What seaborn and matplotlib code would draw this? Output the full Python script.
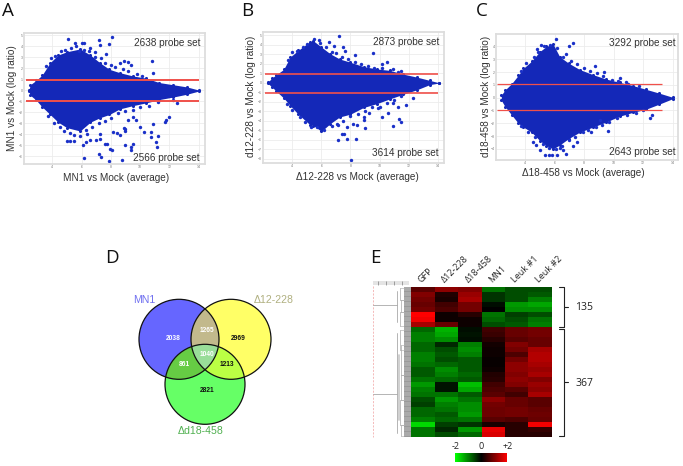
import numpy as np
import pandas as pd
import seaborn as sns
import matplotlib
matplotlib.use("Agg")
import matplotlib.pyplot as plt
from matplotlib.colors import LinearSegmentedColormap

sns.set_theme(style="white")
plt.rcParams['font.family'] = ['Liberation Sans', 'DejaVu Sans']

W, H = 683, 466

# ---------- MA plots ----------
a_x = [2.4,2.5,2.9,3.3,3.85,4.4,5.0,5.9,6.6,7.25,7.9,8.6,9.5,10.4,11.3,12.25,13.2,14.05]
a_up = [0,.5,.9,1.36,2.5,3.2,3.5,3.75,3.2,2.5,1.9,1.6,1.3,1.1,.7,.5,.3,0]
a_lo = [-.1,-.45,-.9,-1.5,-2.2,-2.9,-3.4,-3.7,-2.9,-2.5,-2.2,-1.7,-1.4,-1.15,-.85,-.62,-.36,-.06]
a_ox = [5.05,8.1,7.2,5.55,6,6.15,6.6,7.25,7.9,10.8,8.9,9.2,9.35,10.9,8.6,7.7,5.8,6.9,
        5,5.2,5.5,6.1,6.3,6.6,7,7.25,6.35,6.2,7.2,7.3,7.9,8.75,8.05,7.95,8.95,9.5,9.4,9.35,7.75,7.6,8.6,8.9,9,8.95,
        10.25,10.75,10.75,11.2,11.1,11.15,10.85,11.8,12,11.7,10,9.7,8.4,8.15,7.25,9.2,9.5,12.25,12.55,
        3.6,3.9,4.2,4.6,4.9,5.3,5.6,6.2,6.5,6.9,7.3,7.6,8,8.3,8.8,9.2,9.8,10.1,
        3.7,4.1,4.5,4.8,5.2,5.5,5.9,6.3,6.7,7.2,7.6,8,8.5,9,9.5,10,10.6,11.2]
a_oy = [4.7,4.8,4.6,4.25,4.25,4.3,3.8,4.1,4.2,2.7,2.7,2.6,2.3,1.6,2.5,3.3,3.6,3.5,
        -4.6,-4.6,-4.6,-5,-4.7,-4.55,-4.55,-3.95,-3.95,-6.2,-5.8,-6.1,-6.4,-6.3,-5.45,-5.35,-5,-4.9,-5.15,-5.45,-4.85,-4.85,-4.1,-3.4,-3.5,-3.7,
        -3.8,-3.8,-4.25,-4.2,-4.7,-5.15,-3.05,-2.7,-2.4,-2.9,-3.3,-2.7,-3.9,-3.8,-4.4,-2.7,-2.4,-.9,-1.15,
        2.2,2.9,3.1,3.6,3.7,3.8,4.0,3.7,3.6,3.0,2.9,2.5,2.3,2.1,1.9,1.75,1.5,1.3,
        -2.3,-3,-3.3,-3.7,-3.9,-4.1,-4.2,-3.6,-3.3,-3,-2.8,-2.5,-2.1,-1.9,-1.8,-1.5,-1.4,-1.1]

b_x = [2.3,2.6,2.9,3.4,3.85,4.4,5.2,5.45,6,6.6,7.25,8,8.9,9.8,10.7,11.65,12.55,13.45,14.1]
b_up = [.05,.5,.85,1.4,2.7,3.4,4.3,4.4,3.75,3.05,2.5,2.15,1.7,1.45,1.3,.9,.6,.25,0]
b_lo = [-.05,-.45,-.9,-1.6,-2.4,-3.3,-4.4,-4.5,-5.1,-4.3,-3.6,-3.3,-2.6,-2.2,-1.7,-1.2,-.75,-.2,-.03]
b_ox = [7.2,6.5,7.5,9.55,7.6,10.5,10.15,11.45,8.3,4.3,6.85,5.9,
        8.05,7.15,7.4,7.55,7.75,8.4,7.75,8.15,8.45,9,8.9,8.95,10.2,10.6,10.95,11.35,11.45,11.3,11.85,12.3,7.15,9.3,9.9,10.95,
        3.7,4,4.7,5,5.5,5.8,6.3,6.7,7,7.4,7.8,8.3,8.7,9.2,9.6,10.2,10.9,11.3,
        3.6,4,4.5,4.9,5.3,5.7,6.2,6.7,7.1,7.5,8,8.5,9,9.5,10,10.5,11,11.5]
b_oy = [4.9,4.3,3.75,3.15,3.3,2.2,2,1.2,2.95,3.3,3.9,4.2,
        -8.1,-6,-5.4,-5.4,-5.9,-5.95,-4.6,-4.35,-4.4,-4.8,-3.55,-3.9,-3.65,-3.2,-4.55,-3.85,-4.1,-2.55,-2.3,-1.6,-4.45,-3.2,-2.7,-2.15,
        2.4,3.2,3.8,4.1,4.6,4.5,3.8,3.2,3.1,2.7,2.5,2.2,2.0,1.8,1.6,1.5,1.4,1.1,
        -2.2,-2.9,-3.6,-4.1,-4.7,-4.7,-5.0,-4.5,-4.3,-4,-3.5,-3.3,-3,-2.6,-2.5,-2.1,-1.8,-1.4]

c_x = [2.4,2.65,3.1,3.55,3.9,4.45,5,5.45,5.9,6.35,6.95,7.7,8.6,9.5,10.4,11.3,12.2,13.1,14]
c_up = [.2,.6,1.1,1.75,2.3,2.85,3.6,4.0,4.2,3.2,2.7,2.2,1.8,1.45,1.2,.95,.65,.35,.03]
c_lo = [-.2,-.7,-1.35,-2,-2.3,-2.7,-3.35,-3.75,-4.0,-3.7,-3.2,-2.7,-2.3,-1.9,-1.45,-1.15,-.9,-.5,-.08]
c_ox = [6.1,7.25,6.95,5.1,4.8,8.75,9.35,10.85,10.4,6.8,
        4.55,4.75,5,5.35,5.6,5.8,6.2,6.8,6.6,6.35,8.5,9.6,12.45,12.6,9.05,7.25,7.5,
        3.7,4.1,4.6,4.9,5.3,5.7,6.2,6.6,7.1,7.5,8,8.4,8.9,9.3,9.9,10.3,11,11.7,
        3.7,4.2,4.7,5.2,5.6,6.1,6.5,7,7.4,7.9,8.3,8.8,9.2,9.7,10.2,10.9,11.5,12]
c_oy = [4.6,4.25,4.05,4.1,3.8,2.5,2,1.2,1.5,3.45,
        -3.45,-3.7,-4.1,-4.45,-4.45,-4.5,-4.5,-4.4,-4.1,-3.95,-2.7,-2.6,-1.6,-1.35,-1.75,-3.8,-3.45,
        2.1,2.7,3.2,3.6,4.0,4.1,3.9,3.2,2.9,2.6,2.3,2.1,1.9,1.7,1.4,1.3,1.1,.9,
        -2.2,-2.7,-3.1,-3.6,-3.9,-4.0,-3.8,-3.3,-3.1,-2.7,-2.5,-2.3,-2.1,-1.9,-1.6,-1.35,-1.2,-1.0]

# ---------- Venn ----------
venn_names = ["MN1", "\u039412-228", "\u0394d18-458"]
venn_counts = [2038, 1265, 2969, 1040, 861, 1213, 2821]

# ---------- Heat map ----------
heat_cols = ["GFP", "\u039412-228", "\u039418-458", "MN1", "Leuk #1", "Leuk #2"]
heat_rows = [
 [.7,1.1,1.0,-.9,-.6,-.6],[1.0,.25,1.2,-.4,-.6,-.7],[.9,.2,1.3,-.4,-.6,-1.0],[.8,.5,.9,-.1,-1.2,-1.3],
 [.9,.6,.9,0,-1.1,-1.1],[2,.1,.3,-.9,-.5,-.6],[1.9,.1,.1,-.8,-.6,-.9],[1.3,.8,.1,-.6,-.7,-1],
 [-.8,-1.4,-.1,.5,.8,.9],[-1,-1.3,-.15,.45,.8,.9],[-1,-1.1,-.1,.3,.7,.8],[-.8,-.3,-1,.15,1.0,.8],
 [-.8,-.6,-1.1,.1,.9,1.3],[-1,-.7,-1,.1,.6,1.4],[-1,-.6,-.7,.05,.9,1.4],[-.9,-.8,-.7,.05,1.1,1.3],
 [-.7,-1.1,-.7,.1,1.1,1.2],[-.7,-1,-.8,.25,1,1.3],[-.9,-.8,-.7,.3,1.1,1],[-1.2,-.15,-1.5,.5,1,1.2],
 [-1,-.15,-1.3,.6,.7,1.1],[-.9,-.9,-.7,.7,.5,1.3],[-.6,-1.2,-.9,1.1,.8,.7],[-.5,-1,-1.1,.9,.8,.7],
 [-.8,-.9,-1.1,.85,.9,.8],[-.8,-.7,-1.2,.85,.9,.85],[-1,-.8,-.9,.7,.6,.8],[-1.7,-.5,-.4,.2,.3,1.9],
 [-.9,-.3,-1.2,1.8,.3,.4],[-.9,-.6,-.8,1.7,.3,.3]]
cbar_ticks = [-2, 0, 2]
cbar_labels = ["-2", "0", "+2"]

fig = plt.figure(figsize=(W/100, H/100), dpi=100, facecolor="white")

def axpx(x0, y0, x1, y1, **kw):
    return fig.add_axes([x0/W, 1-y1/H, (x1-x0)/W, (y1-y0)/H], **kw)

BLUE = "#1428b8"
def ma(box, xlim, ylim, yt, x, up, lo, ox, oy, lines, linex, lw):
    ax = axpx(*box)
    ax.set_xlim(*xlim); ax.set_ylim(*ylim)
    ax.set_xticks([4,6,8,10,12,14]); ax.set_yticks(yt)
    ax.tick_params(labelsize=2.5, labelcolor="#777", length=0, pad=1)
    ax.grid(True, color="#ececec", lw=.6)
    ax.set_axisbelow(True)
    for s in ax.spines.values():
        s.set_color("#dddddd"); s.set_linewidth(1.3)
    ax.fill_between(x, lo, up, color=BLUE, lw=0, zorder=2)
    edge = pd.DataFrame({"x": list(x)*2, "y": list(up)+list(lo)})
    sns.scatterplot(data=edge, x="x", y="y", ax=ax, s=5, color=BLUE, linewidth=0, zorder=2.1)
    out = pd.DataFrame({"x": ox, "y": oy})
    sns.scatterplot(data=out, x="x", y="y", ax=ax, s=6, color="#1a30c8", linewidth=0, zorder=2.2)
    ax.hlines(lines, linex[0], linex[1], color="#f0504a", lw=lw, zorder=3)
    ax.set_xlabel(""); ax.set_ylabel("")
    return ax

ma((24,33,205,164),(2.07,14.43),(-6.7,5.2),range(-6,6),a_x,a_up,a_lo,a_ox,a_oy,[.95,-1],(2.2,14),1.4)
ma((263.3,32.3,444.3,162.7),(2.0,14.46),(-8.4,5.3),range(-8,6),b_x,b_up,b_lo,b_ox,b_oy,[.95,-1.05],(2.1,14),1.2)
ma((496,34.3,678,160),(2.04,14.36),(-4.87,4.95),range(-4,5),c_x,c_up,c_lo,c_ox,c_oy,[1.04,-.99],(2.1,13.25),.9)

# ---------- heat map ----------
gbr = LinearSegmentedColormap.from_list("gbr", ["#00ff00", "#000000", "#ff0000"])
hax = axpx(411.3, 286.7, 551.7, 436.7)
cax = axpx(455.3, 452.7, 507.3, 462.3)
df = pd.DataFrame(heat_rows, columns=heat_cols)
sns.heatmap(df, ax=hax, cmap=gbr, vmin=-2, vmax=2, yticklabels=False,
            cbar_ax=cax, cbar_kws={"orientation": "horizontal", "ticks": cbar_ticks})
hax.xaxis.tick_top()
hax.set_xticklabels(heat_cols, rotation=45, ha="left", va="bottom", rotation_mode="anchor",
                    fontsize=6.5, color="#222", family=["Open Sans", "DejaVu Sans"])
hax.tick_params(axis="x", length=0, pad=2)
cax.xaxis.tick_top()
cax.set_xticklabels(cbar_labels, fontsize=6.5, color="#222", family="Open Sans")
cax.tick_params(length=0, pad=1)

# ---------- overlay in pixel units ----------
ov = axpx(0, 0, W, H)
ov.set_xlim(0, W); ov.set_ylim(H, 0); ov.axis("off"); ov.patch.set_alpha(0)

LET = ["Open Sans", "DejaVu Sans"]
for s, x, y in [("A",8.3,10.7),("B",247.3,10.5),("C",481.7,10.5),("D",112.3,258),("E",375.3,258)]:
    ov.text(x, y, s, fontsize=13.5, family=LET, color="#111", ha="center", va="center")

LAB = "#333333"
for s, x, y in [("MN1 vs Mock (average)",115.7,177.7),("\u039412-228 vs Mock (average)",357,177),
                ("\u039418-458 vs Mock (average)",583.3,172.7)]:
    ov.text(x, y, s, fontsize=7.2, color=LAB, ha="center", va="center")
for s, x, y in [("MN1 vs Mock (log ratio)",11.7,97.7),("d12-228 vs Mock (log ratio)",251,96.7),
                ("d18-458 vs Mock (log ratio)",485.7,96)]:
    ov.text(x, y, s, fontsize=7.2, color=LAB, ha="center", va="center", rotation=90)
for s, x, y in [("2638 probe set",200,42.7),("2566 probe set",200,157.7),("2873 probe set",439.3,41.7),
                ("3614 probe set",438.7,152.7),("3292 probe set",676,43),("2643 probe set",676,151.7)]:
    ov.text(x, y, s, fontsize=7.2, color=LAB, ha="right", va="center")

# Venn
C = [(179,339.3),(231,339.3),(205,384.3)]
R = 40
def region(idx, color):
    cs = np.array([C[i] for i in idx])
    c0 = cs.mean(axis=0)
    th = np.linspace(0, 2*np.pi, 361)
    d = np.c_[np.cos(th), np.sin(th)]
    rs = []
    for c in cs:
        f = c0-c
        b = d @ f
        rs.append(-b+np.sqrt(b*b-(f@f-R*R)))
    r = np.min(rs, axis=0)
    ov.fill(c0[0]+r*d[:,0], c0[1]+r*d[:,1], color=color, lw=0, zorder=2)
for i, col in enumerate(["#6666ff","#ffff66","#66ff66"]):
    ov.add_patch(plt.Circle(C[i], R, fc=col, ec="none", zorder=1))
region([0,1],"#c2b98c"); region([0,2],"#66cc44"); region([1,2],"#bbff44"); region([0,1,2],"#99dd99")
for c in C:
    ov.add_patch(plt.Circle(c, R, fc="none", ec="#111", lw=.9, zorder=3))
vpos = [(173.3,339,"white"),(207.3,330.3,"white"),(238.3,339,"#111"),(207.3,354,"white"),
        (184.7,365,"white"),(227.3,365,"#111"),(207,391,"#111")]
for n,(x,y,c) in zip(venn_counts, vpos):
    ov.text(x, y, str(n), fontsize=4.8, color=c, ha="center", va="center", zorder=4, fontweight="bold")
for s,x,y,c in zip(venn_names,[144.7,273.7,201],[300,300,430.7],["#7070f0","#b0b080","#50b050"]):
    ov.text(x, y, s, fontsize=7.6, color=c, ha="center", va="center")

# brackets
BR = "#222"
for y0, y1 in [(287,327),(328.5,435.5)]:
    ym = (y0+y1)/2
    ov.plot([559,563.5,563.5,559],[y0,y0,y1,y1], color=BR, lw=.8)
    ov.plot([563.5,568],[ym,ym], color=BR, lw=.8)
ov.text(584,307,"135",fontsize=7.5,family=LET,color="#222",ha="center",va="center")
ov.text(584,383,"367",fontsize=7.5,family=LET,color="#222",ha="center",va="center")

# dendrogram
GR = "#a8a8a8"
ov.plot([373.3,373.3],[286,437],color="#f0a0a0",lw=.5,ls=(0,(3,2)))
ov.plot([373.3,397],[305,305],color=GR,lw=.6)
ov.plot([373.3,397],[394,394],color=GR,lw=.6)
ov.plot([397,397],[291,322],color=GR,lw=.6)
ov.plot([397,397],[333,433],color=GR,lw=.6)
ov.plot([399,399],[355,420],color="#c8c8c8",lw=1.2)
for y0,y1,x in [(288,300,400),(300,312,401),(312,326,400),(330,350,400),(345,375,401),(375,400,401),(400,425,400),(425,436,401)]:
    ov.plot([x,x],[y0,y1],color=GR,lw=.5)
    ov.plot([x,404],[y0,y0],color=GR,lw=.4)
    ov.plot([x,404],[y1,y1],color=GR,lw=.4)
ov.fill_between([404,410.5],286.7,436.7,color="#9a9a9a",lw=0)
ov.hlines(np.arange(287.5,437,2.5),404,410.5,color="#dddddd",lw=.35)
ov.fill_between([373,409],281,284.5,color="#e4e4e4",lw=0)
ov.vlines([378,386,394,402],281,284.5,color="#666",lw=.4)

fig.savefig("out.png", dpi=100)
